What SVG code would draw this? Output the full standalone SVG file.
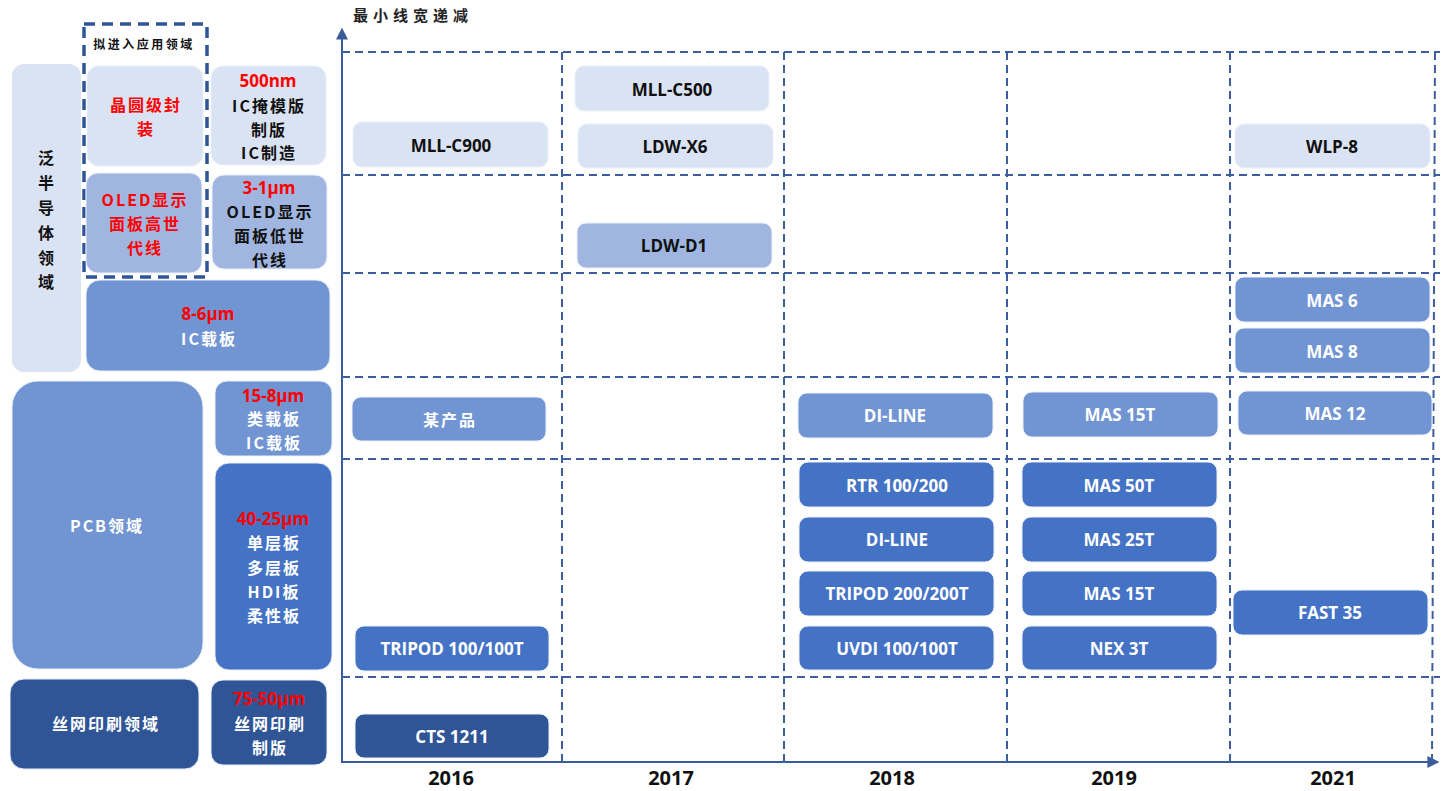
<svg xmlns="http://www.w3.org/2000/svg" width="1445" height="791" viewBox="0 0 1445 791">
<defs>
<marker id="arr" viewBox="0 0 10 10" refX="8" refY="5" markerWidth="6" markerHeight="6" orient="auto" markerUnits="strokeWidth">
<path d="M0,0 L10,5 L0,10 z" fill="#3A5C9C"/>
</marker>
<style>
.grid{stroke:#3D5E9E;stroke-width:2;stroke-dasharray:8 5;fill:none}
.axis{stroke:#3A5C9C;stroke-width:2;fill:none}
.l1{fill:#DAE3F3}
.l2{fill:#A0B6E0}
.l3{fill:#7195D2}
.l4{fill:#4472C4}
.l5{fill:#2F5597}
.n{stroke:#EAF0FA;stroke-width:1}
.t{font-family:"Open Sans","Liberation Sans",sans-serif;font-weight:bold;font-size:17px;text-anchor:middle;dominant-baseline:central}
.k{font-family:"Noto Sans CJK SC",sans-serif;font-weight:bold;font-size:16px;text-anchor:middle;dominant-baseline:central;letter-spacing:2px}
.r{font-family:"Open Sans","Liberation Sans",sans-serif;font-weight:bold;font-size:17px;text-anchor:middle;dominant-baseline:central;fill:#FF0000}
.b{fill:#111}
.w{fill:#FFFFFF}
.red{fill:#FF0000}
.yr{font-family:"Open Sans","Liberation Sans",sans-serif;font-weight:bold;font-size:20px;text-anchor:middle;fill:#111}
</style>
</defs>
<rect width="1445" height="791" fill="#FFFFFF"/>

<g id="connectors">
<line class="axis" x1="342" y1="763" x2="342" y2="30" marker-end="url(#arr)"/>
<line class="axis" x1="342" y1="762" x2="1437" y2="762" marker-end="url(#arr)"/>
<line class="grid" x1="342" y1="52" x2="1440" y2="52"/>
<line class="grid" x1="342" y1="175" x2="1440" y2="175"/>
<line class="grid" x1="342" y1="273" x2="1440" y2="273"/>
<line class="grid" x1="342" y1="377" x2="1440" y2="377"/>
<line class="grid" x1="342" y1="459" x2="1440" y2="459"/>
<line class="grid" x1="342" y1="677" x2="1440" y2="677"/>
<line class="grid" x1="562" y1="52" x2="562" y2="762"/>
<line class="grid" x1="784" y1="52" x2="784" y2="762"/>
<line class="grid" x1="1007" y1="52" x2="1007" y2="762"/>
<line class="grid" x1="1230" y1="52" x2="1230" y2="762"/>
<line class="grid" x1="1435" y1="52" x2="1432" y2="762"/>
</g>

<text x="353" y="21" font-family="Noto Sans CJK SC,sans-serif" font-size="15" font-weight="bold" letter-spacing="5" fill="#222">最小线宽递减</text>

<g id="years">
<text class="yr" x="451" y="785">2016</text>
<text class="yr" x="671" y="785">2017</text>
<text class="yr" x="892" y="785">2018</text>
<text class="yr" x="1114" y="785">2019</text>
<text class="yr" x="1333" y="785">2021</text>
</g>

<g id="semi-domain">
<rect class="l1" x="12" y="64" width="69" height="308" rx="12"/>
<text class="k b" x="47" y="157">泛</text>
<text class="k b" x="47" y="182">半</text>
<text class="k b" x="47" y="207">导</text>
<text class="k b" x="47" y="232">体</text>
<text class="k b" x="47" y="257">领</text>
<text class="k b" x="47" y="281">域</text>
</g>

<g id="planned-box">
<rect x="84" y="24" width="123" height="253" fill="none" stroke="#2F5597" stroke-width="3.5" stroke-dasharray="11 7"/>
<text x="144" y="43" font-family="Noto Sans CJK SC,sans-serif" font-size="12" font-weight="bold" letter-spacing="2.5" text-anchor="middle" dominant-baseline="central" fill="#111">拟进入应用领域</text>
</g>

<g id="wafer">
<rect class="l1 n" x="87" y="66" width="116" height="100" rx="12"/>
<text class="k red" x="146" y="104">晶圆级封</text>
<text class="k red" x="146" y="128">装</text>
</g>

<g id="ic-mask">
<rect class="l1 n" x="211" y="66" width="115" height="99" rx="12"/>
<text class="r" x="268" y="80">500nm</text>
<text class="k b" x="269" y="105">IC掩模版</text>
<text class="k b" x="269" y="129">制版</text>
<text class="k b" x="269" y="152">IC制造</text>
</g>

<g id="oled-high">
<rect class="l2 n" x="86" y="173" width="116" height="100" rx="12"/>
<text class="k red" x="145" y="199">OLED显示</text>
<text class="k red" x="145" y="223">面板高世</text>
<text class="k red" x="145" y="247">代线</text>
</g>

<g id="oled-low">
<rect class="l2 n" x="212" y="175" width="115" height="94" rx="12"/>
<text class="r" x="269" y="187">3-1μm</text>
<text class="k b" x="270" y="211">OLED显示</text>
<text class="k b" x="270" y="235">面板低世</text>
<text class="k b" x="270" y="259">代线</text>
</g>

<g id="ic-substrate">
<rect class="l3 n" x="86" y="280" width="244" height="91" rx="14"/>
<text class="r" x="208" y="313">8-6μm</text>
<text class="k w" x="209" y="338">IC载板</text>
</g>

<g id="pcb-domain">
<rect class="l3 n" x="12" y="381" width="191" height="288" rx="26"/>
<text class="k w" x="107" y="525">PCB领域</text>
</g>

<g id="slp">
<rect class="l3 n" x="215" y="381" width="117" height="75" rx="12"/>
<text class="r" x="273" y="395">15-8μm</text>
<text class="k w" x="274" y="418">类载板</text>
<text class="k w" x="274" y="442">IC载板</text>
</g>

<g id="pcb-boards">
<rect class="l4 n" x="215" y="463" width="117" height="207" rx="14"/>
<text class="r" x="273" y="518">40-25μm</text>
<text class="k w" x="274" y="542">单层板</text>
<text class="k w" x="274" y="567">多层板</text>
<text class="k w" x="274" y="591">HDI板</text>
<text class="k w" x="274" y="615">柔性板</text>
</g>

<g id="screen-domain">
<rect class="l5 n" x="10" y="679" width="189" height="90" rx="14"/>
<text class="k w" x="106" y="723">丝网印刷领域</text>
</g>

<g id="screen-plate">
<rect class="l5 n" x="211" y="680" width="116" height="85" rx="12"/>
<text class="r" x="269" y="698">75-50μm</text>
<text class="k w" x="270" y="723">丝网印刷</text>
<text class="k w" x="270" y="747">制版</text>
</g>

<g id="n-mllc900"><rect class="l1 n" x="353" y="122" width="195" height="45" rx="9"/><text class="t b" x="451" y="145">MLL-C900</text></g>
<g id="n-some"><rect class="l3 n" x="352" y="397" width="194" height="44" rx="9"/><text class="k w" x="450" y="419" font-weight="normal">某产品</text></g>
<g id="n-tripod100"><rect class="l4 n" x="355" y="626" width="194" height="45" rx="9"/><text class="t w" x="452" y="648">TRIPOD 100/100T</text></g>
<g id="n-cts1211"><rect class="l5 n" x="355" y="714" width="194" height="44" rx="9"/><text class="t w" x="452" y="736">CTS 1211</text></g>

<g id="n-mllc500"><rect class="l1 n" x="575" y="66" width="194" height="45" rx="9"/><text class="t b" x="672" y="89">MLL-C500</text></g>
<g id="n-ldwx6"><rect class="l1 n" x="578" y="124" width="195" height="44" rx="9"/><text class="t b" x="675" y="146">LDW-X6</text></g>
<g id="n-ldwd1"><rect class="l2 n" x="577" y="223" width="195" height="45" rx="9"/><text class="t b" x="674" y="245">LDW-D1</text></g>

<g id="n-diline1"><rect class="l3 n" x="798" y="393" width="195" height="45" rx="9"/><text class="t w" x="895" y="415">DI-LINE</text></g>
<g id="n-rtr"><rect class="l4 n" x="799" y="462" width="195" height="45" rx="9"/><text class="t w" x="897" y="485">RTR 100/200</text></g>
<g id="n-diline2"><rect class="l4 n" x="799" y="517" width="195" height="45" rx="9"/><text class="t w" x="897" y="539">DI-LINE</text></g>
<g id="n-tripod200"><rect class="l4 n" x="799" y="571" width="195" height="45" rx="9"/><text class="t w" x="897" y="593">TRIPOD 200/200T</text></g>
<g id="n-uvdi"><rect class="l4 n" x="799" y="626" width="195" height="44" rx="9"/><text class="t w" x="897" y="648">UVDI 100/100T</text></g>

<g id="n-mas15t-a"><rect class="l3 n" x="1023" y="392" width="195" height="45" rx="9"/><text class="t w" x="1120" y="414">MAS 15T</text></g>
<g id="n-mas50t"><rect class="l4 n" x="1022" y="462" width="195" height="45" rx="9"/><text class="t w" x="1119" y="485">MAS 50T</text></g>
<g id="n-mas25t"><rect class="l4 n" x="1022" y="517" width="195" height="45" rx="9"/><text class="t w" x="1119" y="539">MAS 25T</text></g>
<g id="n-mas15t-b"><rect class="l4 n" x="1022" y="571" width="195" height="45" rx="9"/><text class="t w" x="1119" y="593">MAS 15T</text></g>
<g id="n-nex3t"><rect class="l4 n" x="1022" y="626" width="195" height="44" rx="9"/><text class="t w" x="1119" y="648">NEX 3T</text></g>

<g id="n-wlp8"><rect class="l1 n" x="1235" y="124" width="195" height="44" rx="9"/><text class="t b" x="1332" y="146">WLP-8</text></g>
<g id="n-mas6"><rect class="l3 n" x="1235" y="277" width="195" height="45" rx="9"/><text class="t w" x="1332" y="300">MAS 6</text></g>
<g id="n-mas8"><rect class="l3 n" x="1235" y="328" width="195" height="45" rx="9"/><text class="t w" x="1332" y="351">MAS 8</text></g>
<g id="n-mas12"><rect class="l3 n" x="1238" y="391" width="194" height="44" rx="9"/><text class="t w" x="1335" y="413">MAS 12</text></g>
<g id="n-fast35"><rect class="l4 n" x="1233" y="590" width="195" height="45" rx="9"/><text class="t w" x="1330" y="612">FAST 35</text></g>
</svg>
